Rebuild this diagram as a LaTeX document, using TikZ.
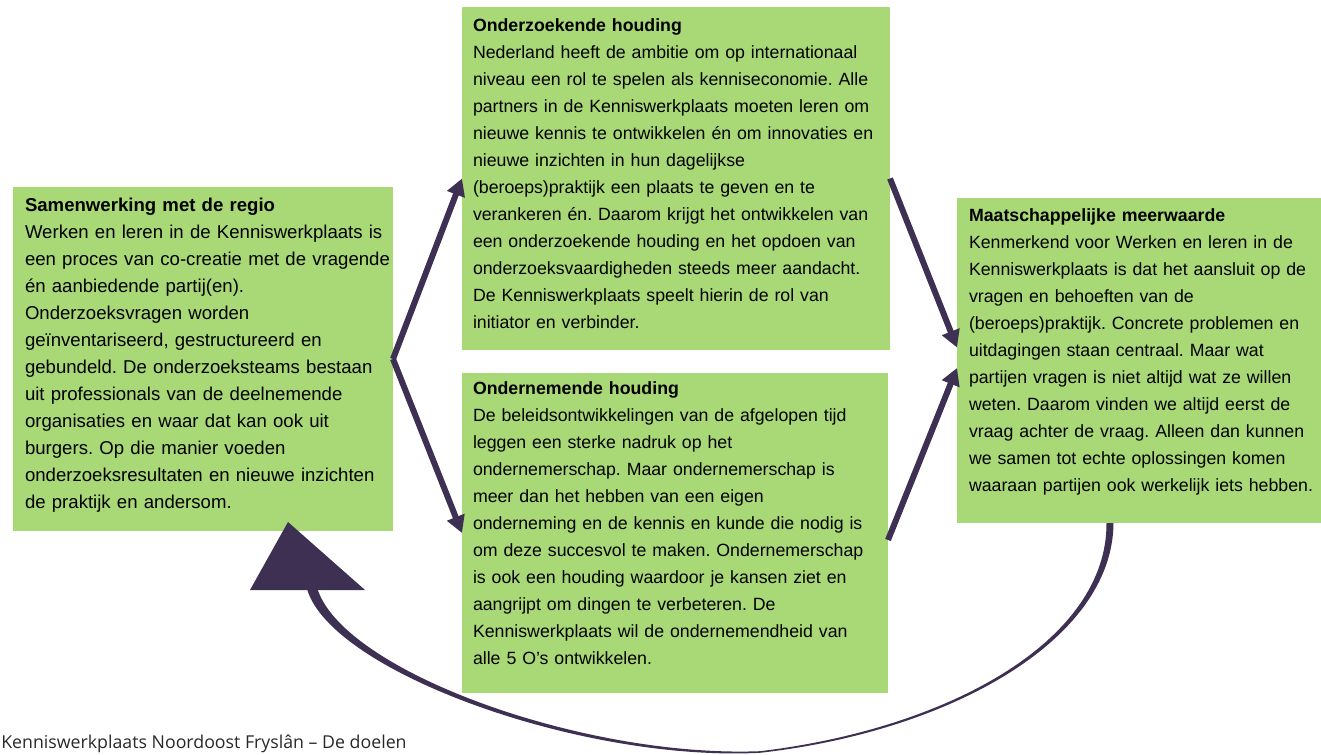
\documentclass[tikz,border=0pt]{standalone}
\usepackage{graphicx}
\usepackage{fontspec}
\setmainfont{Liberation Sans}
\newfontfamily\capfont{Open Sans}
\usetikzlibrary{arrows.meta}
\definecolor{boxgreen}{RGB}{169,217,119}
\definecolor{arrowpurple}{RGB}{62,48,82}
\definecolor{capgray}{RGB}{40,40,40}
\frenchspacing
\begin{document}
\begin{tikzpicture}[x=0.75pt,y=-0.75pt,
  box/.style={fill=boxgreen, draw=none, anchor=north west, inner sep=0pt, outer sep=0pt},
  txt/.style={anchor=base west, inner sep=0pt, outer sep=0pt, align=left, text width=330pt,
              font=\frenchspacing\fontsize{13.3pt}{20.25pt}\selectfont, text=black},
  bigtxt/.style={txt, font=\frenchspacing\fontsize{13.95pt}{20.25pt}\selectfont},
  conn/.style={draw=arrowpurple, line width=4.5pt, -{Triangle[length=12.75pt,width=13.5pt]}}]
\useasboundingbox (0,0) rectangle (1321,755);

% boxes
\node[box, minimum width=285pt, minimum height=258pt] (b1) at (13,187) {};
\node[box, minimum width=321pt, minimum height=257.25pt] (b2) at (462,7) {};
\node[box, minimum width=319.5pt, minimum height=240pt] (b3) at (462,373) {};
\node[box, minimum width=273pt, minimum height=243.75pt] (b4) at (957,198) {};

% texts
\node[bigtxt] (t1) at (25,212) {\textbf{Samenwerking met de regio}\\
Werken en leren in de Kenniswerkplaats is\\
een proces van co-creatie met de vragende\\
én aanbiedende partij(en).\\
Onderzoeksvragen worden\\
geïnventariseerd, gestructureerd en\\
gebundeld. De onderzoeksteams bestaan\\
uit professionals van de deelnemende\\
organisaties en waar dat kan ook uit\\
burgers. Op die manier voeden\\
onderzoeksresultaten en nieuwe inzichten\\
de praktijk en andersom.};

\node[txt] (t2) at (473,32) {\textbf{Onderzoekende houding}\\
Nederland heeft de ambitie om op internationaal\\
niveau een rol te spelen als kenniseconomie. Alle\\
partners in de Kenniswerkplaats moeten leren om\\
nieuwe kennis te ontwikkelen én om innovaties en\\
nieuwe inzichten in hun dagelijkse\\
(beroeps)praktijk een plaats te geven en te\\
verankeren én. Daarom krijgt het ontwikkelen van\\
een onderzoekende houding en het opdoen van\\
onderzoeksvaardigheden steeds meer aandacht.\\
De Kenniswerkplaats speelt hierin de rol van\\
initiator en verbinder.};

\node[txt] (t3) at (473,395) {\textbf{Ondernemende houding}\\
De beleidsontwikkelingen van de afgelopen tijd\\
leggen een sterke nadruk op het\\
ondernemerschap. Maar ondernemerschap is\\
meer dan het hebben van een eigen\\
onderneming en de kennis en kunde die nodig is\\
om deze succesvol te maken. Ondernemerschap\\
is ook een houding waardoor je kansen ziet en\\
aangrijpt om dingen te verbeteren. De\\
Kenniswerkplaats wil de ondernemendheid van\\
alle 5 O's ontwikkelen.};

\node[txt] (t4) at (969,222) {\textbf{Maatschappelijke meerwaarde}\\
Kenmerkend voor Werken en leren in de\\
Kenniswerkplaats is dat het aansluit op de\\
vragen en behoeften van de\\
(beroeps)praktijk. Concrete problemen en\\
uitdagingen staan centraal. Maar wat\\
partijen vragen is niet altijd wat ze willen\\
weten. Daarom vinden we altijd eerst de\\
vraag achter de vraag. Alleen dan kunnen\\
we samen tot echte oplossingen komen\\
waaraan partijen ook werkelijk iets hebben.};

% straight connectors
\draw[conn] (b1.east) -- (b2.west);
\draw[conn] (b1.east) -- (b3.west);
\draw[conn] (b2.east) -- ([yshift=9.75pt]b4.west);
\draw[conn] ([yshift=-5.25pt]b3.east) -- ([yshift=-5.6pt]b4.west);

% big tapered return connector from b4 to b1
\coordinate (cstart) at (1110,523);
\coordinate (chead) at (288,522);
\fill[arrowpurple]
  (1106.5,523) .. controls (1107.2,640) and (949.8,728.5) .. (760,751.2)
  .. controls (580,758) and (338.8,668.9) .. (316.8,586.6)
  -- (307.2,589.4)
  .. controls (331.2,671.1) and (580,762) .. (760,752.8)
  .. controls (950.2,731.5) and (1112.8,640) .. (1113.5,523) -- cycle;
\fill[arrowpurple] (chead) -- (365,590) -- (250,590) -- cycle;

% caption
\node[anchor=base west, inner sep=0pt, text=capgray,
      font=\capfont\fontsize{12.5pt}{15pt}\selectfont] (cap) at (1,748)
  {\resizebox{304pt}{!}{Kenniswerkplaats Noordoost Fryslân – De doelen}};
\end{tikzpicture}
\end{document}
